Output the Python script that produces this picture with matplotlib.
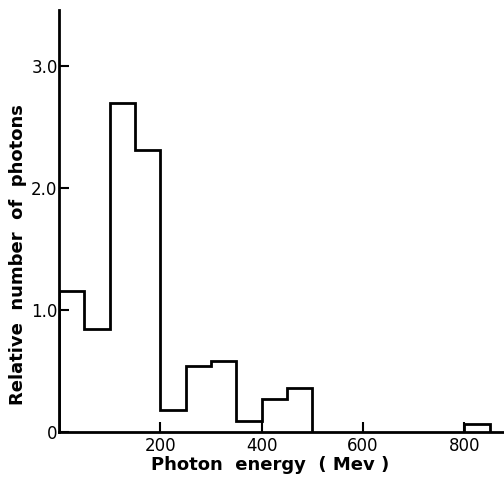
import matplotlib
matplotlib.use('Agg')
import matplotlib.pyplot as plt
import numpy as np

# bin edges (MeV) and relative number of photons per bin
bin_edges = [0, 50, 100, 150, 200, 250, 300, 350, 400, 450, 500]
counts = [1.15, 0.84, 2.70, 2.31, 0.18, 0.54, 0.58, 0.09, 0.27, 0.36]
# isolated bin at high energy
far_edges = [800, 850]
far_counts = [0.06]

xticks = [200, 400, 600, 800]
yticks = [0, 1.0, 2.0, 3.0]
yticklabels = ['0', '1.0', '2.0', '3.0']

fig = plt.figure(figsize=(5.04, 4.79), dpi=100)
ax = fig.add_axes([0.117, 0.099, 0.90, 0.88])

ax.stairs(counts, bin_edges, color='black', linewidth=2.0)
ax.stairs(far_counts, far_edges, color='black', linewidth=2.0)

ax.set_xlim(0, 895)
ax.set_ylim(0, 3.46)

for s in ['top', 'right']:
    ax.spines[s].set_visible(False)
for s in ['left', 'bottom']:
    ax.spines[s].set_linewidth(2.0)

ax.set_xticks(xticks)
ax.set_yticks(yticks)
ax.set_yticklabels(yticklabels)
ax.tick_params(direction='in', length=7, width=1.5, labelsize=12)
ax.tick_params(axis='x', pad=4)
ax.tick_params(axis='y', pad=1)

ax.set_xlabel('Photon  energy  ( Mev )', fontsize=13, fontweight='bold')
ax.set_ylabel('Relative  number  of  photons', fontsize=13, fontweight='bold')
ax.xaxis.set_label_coords(0.465, -0.058)
ax.yaxis.set_label_coords(-0.070, 0.42)

fig.savefig('out.png', dpi=100)
